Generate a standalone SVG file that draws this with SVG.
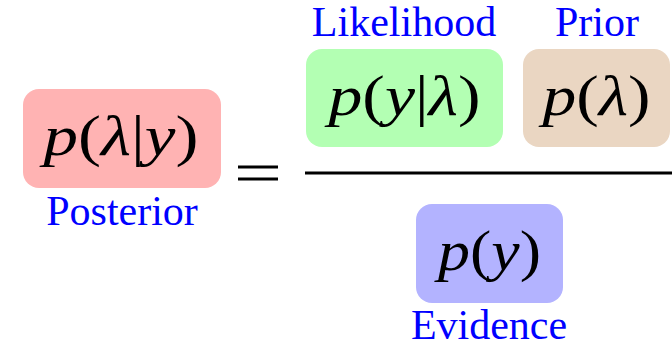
<svg xmlns="http://www.w3.org/2000/svg" width="672" height="349" viewBox="0 0 672 349">
<style>
.lbl{font-family:"Liberation Serif","Times New Roman",serif;font-size:42px;fill:#0000ff;text-anchor:middle}
.math{font-family:"Liberation Serif","Times New Roman",serif;font-size:58px;fill:#000;text-anchor:middle}
.it{font-style:italic}
</style>
<rect width="672" height="349" fill="#fff"/>
<g id="posterior">
<rect x="23" y="89" width="198" height="99" rx="16" fill="#ffb3b3"/>
<text class="math" x="121" y="155" textLength="155" lengthAdjust="spacingAndGlyphs"><tspan class="it">p</tspan>(<tspan class="it">λ</tspan>|<tspan class="it">y</tspan>)</text>
<text class="lbl" x="122" y="225">Posterior</text>
</g>
<g id="equals">
<line x1="238" y1="167" x2="278" y2="167" stroke="#000" stroke-width="3"/>
<line x1="238" y1="179" x2="278" y2="179" stroke="#000" stroke-width="3"/>
</g>
<g id="likelihood">
<rect x="306" y="49" width="197" height="98" rx="16" fill="#b3ffb3"/>
<text class="math" x="404.5" y="115" textLength="152" lengthAdjust="spacingAndGlyphs"><tspan class="it">p</tspan>(<tspan class="it">y</tspan>|<tspan class="it">λ</tspan>)</text>
<text class="lbl" x="404" y="36">Likelihood</text>
</g>
<g id="prior">
<rect x="523" y="49" width="147" height="98" rx="16" fill="#ead6c2"/>
<text class="math" x="596.5" y="115" textLength="108" lengthAdjust="spacingAndGlyphs"><tspan class="it">p</tspan>(<tspan class="it">λ</tspan>)</text>
<text class="lbl" x="597" y="36">Prior</text>
</g>
<g id="fraction">
<line x1="305" y1="173" x2="672" y2="173" stroke="#000" stroke-width="3"/>
</g>
<g id="evidence">
<rect x="416" y="204" width="147" height="99" rx="16" fill="#b3b3ff"/>
<text class="math" x="489.5" y="270" textLength="103" lengthAdjust="spacingAndGlyphs"><tspan class="it">p</tspan>(<tspan class="it">y</tspan>)</text>
<text class="lbl" x="489" y="339">Evidence</text>
</g>
</svg>
